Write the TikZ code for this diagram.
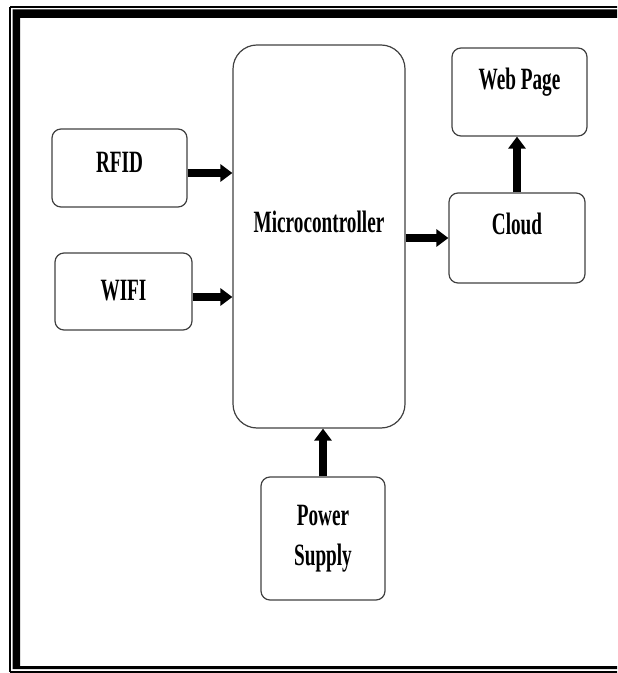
\documentclass[tikz,border=0pt]{standalone}
\usepackage{fontspec}
\newfontfamily\blockfont[FakeStretch=0.62]{Liberation Serif}
\usetikzlibrary{arrows.meta}
\tikzset{
	block/.style={draw=black!75,line width=0.6pt,rounded corners=4.5pt,inner sep=0pt,align=center,
		font=\blockfont\bfseries\fontsize{15.5}{20}\selectfont},
	flow/.style={line width=4pt,-{Triangle[width=8.5pt,length=6pt]}}
}
\begin{document}
\begin{tikzpicture}[x=0.5pt,y=-0.5pt]
	\useasboundingbox (0,0) rectangle (617,673);
	\clip (0,0) rectangle (617,673);
	
	% frame
	\draw[line width=0.6pt] (10,7) -- (640,7) (10,672) -- (640,672) (10,7) -- (10,672);
	\fill[even odd rule] (12.5,9.5) rectangle (640,669) (20,18) rectangle (630,666);
	
	\node[block,minimum width=67.5pt,minimum height=39pt,text height=10pt,text depth=5pt] (rfid) at (119.5,168) {RFID};
	\node[block,minimum width=68.5pt,minimum height=38.5pt,text height=10pt,text depth=1.5pt] (wifi) at (123.5,291.5) {WIFI};
	\node[block,rounded corners=12pt,minimum width=86pt,minimum height=191.5pt,text height=10pt,text depth=13.5pt] (micro) at (319,236.5) {Microcontroller};
	\node[block,minimum width=68pt,minimum height=45pt,text height=10pt,text depth=13pt] (cloud) at (517,238) {Cloud};
	\node[block,minimum width=67.5pt,minimum height=44pt,text height=10pt,text depth=12pt] (web) at (519.5,92) {Web Page};
	\node[block,minimum width=62pt,minimum height=61.5pt] (power) at (323,538.5) {Power\\Supply};
	
	\draw[flow] ([yshift=-2.5pt]rfid.east) -- ([yshift=-2.5pt]rfid.east -| micro.west);
	\draw[flow] ([yshift=-2.75pt]wifi.east) -- ([yshift=-2.75pt]wifi.east -| micro.west);
	\draw[flow] (micro.east |- cloud.west) -- (cloud.west);
	\draw[flow] (cloud.north) -- (cloud.north |- web.south);
	\draw[flow] (power.north) -- (power.north |- micro.south);
\end{tikzpicture}
\end{document}
